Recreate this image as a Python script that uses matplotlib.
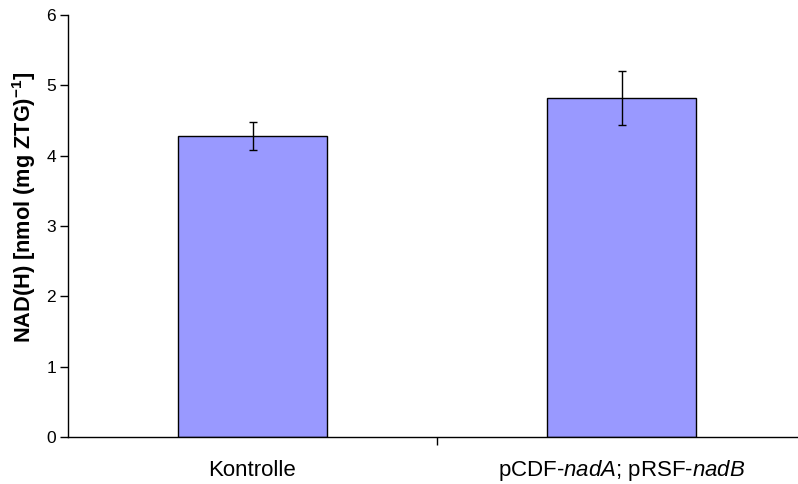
import matplotlib.pyplot as plt
import numpy as np

plt.rcParams['font.family'] = ['Liberation Sans', 'DejaVu Sans']
plt.rcParams['mathtext.fontset'] = 'custom'
plt.rcParams['mathtext.rm'] = 'Liberation Sans'
plt.rcParams['mathtext.it'] = 'Liberation Sans:italic'
plt.rcParams['mathtext.bf'] = 'Liberation Sans:bold'

# data
categories = ["Kontrolle", r"pCDF-$\mathit{nadA}$; pRSF-$\mathit{nadB}$"]
values = [4.28, 4.82]
errors = [0.195, 0.38]
yticks = [0, 1, 2, 3, 4, 5, 6]

fig = plt.figure(figsize=(7.98, 4.84), dpi=100)
# axes extends slightly beyond right edge, as in the original
ax = fig.add_axes([68 / 798, 1 - 437 / 484, (806 - 68) / 798, (437 - 15) / 484])

x = np.arange(len(values))
ax.bar(x, values, width=0.403, color="#9999ff", edgecolor="black", linewidth=1.0)
ax.errorbar(x, values, yerr=errors, fmt="none", ecolor="black", elinewidth=1.0,
            capsize=3, capthick=1.0)

ax.set_xlim(-0.5, 1.5)
ax.set_ylim(0, 6)
ax.set_yticks(yticks)
ax.tick_params(axis="y", direction="out", length=6, width=1, labelsize=12.5, pad=2.5)

# category labels without ticks, single separator tick between groups
ax.set_xticks([0.5])
ax.set_xticklabels([""])
ax.tick_params(axis="x", direction="out", length=6, width=1)
for xi, lab in zip(x, categories):
    ax.text(xi, -0.48, lab, ha="center", va="center", fontsize=16,
            transform=ax.transData)

ax.spines["top"].set_visible(False)
ax.spines["right"].set_visible(False)
ax.spines["left"].set_linewidth(1)
ax.spines["bottom"].set_linewidth(1)

fig.text(24 / 798, 1 - 207 / 484, r"NAD(H) [nmol (mg ZTG)$^{\mathbf{-1}}$]",
         fontsize=15.7, fontweight="bold", rotation=90, ha="center", va="center")

fig.savefig("out.png", dpi=100)
